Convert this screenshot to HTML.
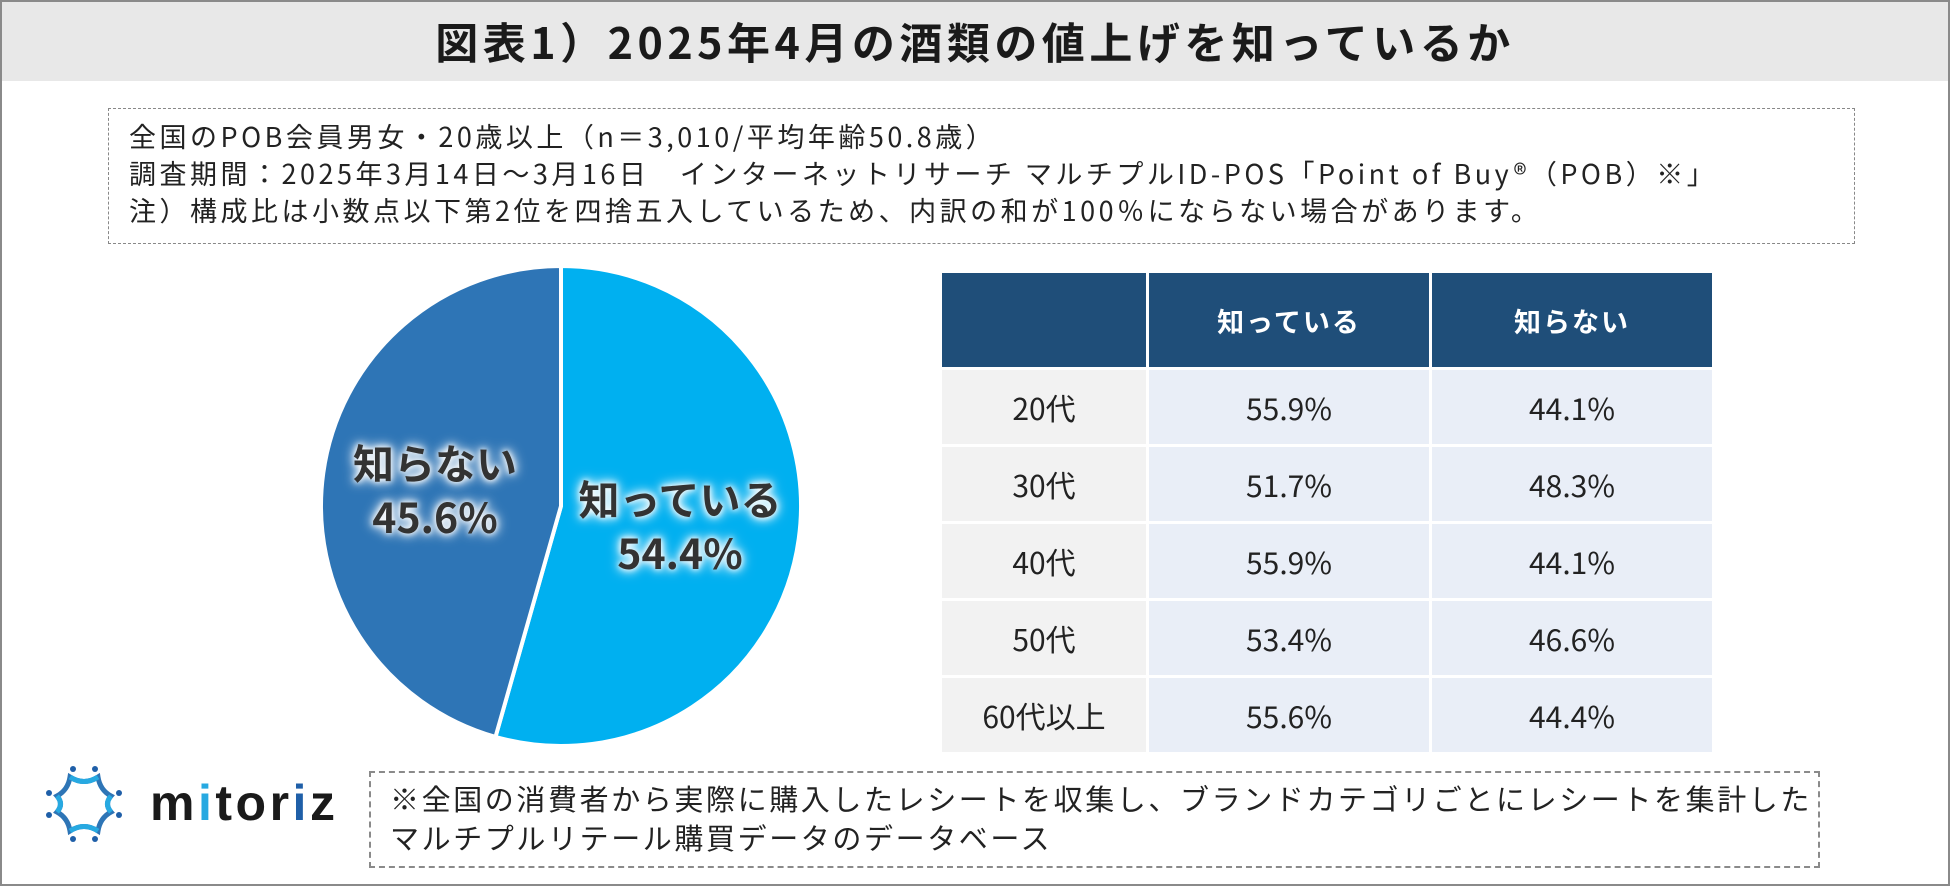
<!DOCTYPE html>
<html><head><meta charset="utf-8"><style>
*{margin:0;padding:0;box-sizing:border-box}
body{width:1950px;height:886px;background:#fff;font-family:"Noto Sans CJK JP","Liberation Sans",sans-serif;position:relative;overflow:hidden;color:#222}
#frame{position:absolute;left:0;top:0;width:1950px;height:886px;border:2px solid #8a8a8a}
#title{position:absolute;left:2px;top:2px;width:1946px;height:79px;background:#e8e8e8;text-align:center;font-size:43px;letter-spacing:4.5px;font-weight:bold;line-height:79px;color:#1a1a1a}
#info{position:absolute;left:108px;top:108px;width:1747px;height:136px;border:1px dashed #888;padding:8px 0 0 20px;font-size:27px;letter-spacing:3.5px;line-height:37px;color:#222;white-space:nowrap}
#foot{position:absolute;left:369px;top:771px;width:1451px;height:97px;border:2px dashed #8a8a8a;padding:6px 0 0 19px;font-size:29px;letter-spacing:2.6px;line-height:39px;color:#222;white-space:nowrap}
table{position:absolute;left:939px;top:270px;border-collapse:collapse;font-size:30px}
td,th{border:3px solid #fff;text-align:center;height:77px;line-height:1}
th{background:#1f4e79;color:#fff;font-weight:bold;height:97px;font-size:27px;letter-spacing:2px}
td.l{background:#f2f2f2;width:207px}
td.v{background:#e9eef7;width:283px}
.pl{position:absolute;font-size:41px;font-weight:bold;color:#333;text-align:center;line-height:54px;text-shadow:0 0 6px #fff,0 0 10px #fff,0 0 14px #fff}
</style></head><body>
<div id="frame"></div>
<div id="title">図表1）2025年4月の酒類の値上げを知っているか</div>
<div id="info">全国のPOB会員男女・20歳以上（n＝3,010/平均年齢50.8歳）<br>調査期間：2025年3月14日～3月16日　インターネットリサーチ マルチプルID-POS「Point of Buy®（POB）※」<br>注）構成比は小数点以下第2位を四捨五入しているため、内訳の和が100％にならない場合があります。</div>
<svg id="pie" width="1950" height="886" style="position:absolute;left:0;top:0"></svg>
<div class="pl" style="left:330px;top:434px;width:210px">知らない<br>45.6%</div>
<div class="pl" style="left:565px;top:470px;width:230px">知っている<br>54.4%</div>
<table><tbody id="tb">
<tr><th style="width:207px"></th><th>知っている</th><th>知らない</th></tr>
</tbody></table>
<svg style="position:absolute;left:46px;top:766px" width="300" height="76">
<g transform="translate(38,38)">
<path d="M-14,-27 Q0,-18 14,-27 Q16,-14 27,-8 Q20,0 27,8 Q16,14 14,27 Q0,18 -14,27 Q-16,14 -27,8 Q-20,0 -27,-8 Q-16,-14 -14,-27Z" fill="none" stroke="#2e75b6" stroke-width="5"/>
<path d="M-14,-27 Q0,-18 14,-27 M27,-8 Q20,0 27,8 M14,27 Q0,18 -14,27 M-27,8 Q-20,0 -27,-8" fill="none" stroke="#27a9e1" stroke-width="5"/>
<g fill="#1f5fa8"><circle cx="-11" cy="-35" r="3"/><circle cx="11" cy="-35" r="3"/><circle cx="-11" cy="35" r="3"/><circle cx="11" cy="35" r="3"/><circle cx="-35" cy="-11" r="3"/><circle cx="35" cy="-11" r="3"/><circle cx="-35" cy="11" r="3"/><circle cx="35" cy="11" r="3"/></g>
</g>
<text x="104" y="54" font-size="50" font-weight="bold" fill="#1a1a1a" font-family="Liberation Sans, sans-serif" letter-spacing="3.5">m<tspan fill="#27a9e1">i</tspan>tor<tspan fill="#1f5fa8">i</tspan>z</text>
</svg>
<div id="foot">※全国の消費者から実際に購入したレシートを収集し、ブランドカテゴリごとにレシートを集計した<br>マルチプルリテール購買データのデータベース</div>
<script>
const pieCats=['知っている','知らない'];
const pieVals=[54.4,45.6];
const pieColors=['#00b0f0','#2e75b6'];
const ages=['20代','30代','40代','50代','60代以上'];
const known=[55.9,51.7,55.9,53.4,55.6];
const unknown=[44.1,48.3,44.1,46.6,44.4];
const NS='http://www.w3.org/2000/svg';
const svg=document.getElementById('pie');
const cx=561,cy=506,r=240;
const total=pieVals.reduce((a,b)=>a+b,0);
let a0=0;
pieVals.forEach((v,i)=>{
  const a1=a0+v/total*2*Math.PI;
  const p=(a)=>[cx+r*Math.sin(a),cy-r*Math.cos(a)];
  const [x0,y0]=p(a0),[x1,y1]=p(a1);
  const path=document.createElementNS(NS,'path');
  path.setAttribute('d',`M${cx},${cy}L${x0},${y0}A${r},${r} 0 ${a1-a0>Math.PI?1:0} 1 ${x1},${y1}Z`);
  path.setAttribute('fill',pieColors[i]);path.setAttribute('stroke','#fff');path.setAttribute('stroke-width','4');
  
  
  svg.appendChild(path);
  a0=a1;
});
const tb=document.getElementById('tb');
ages.forEach((g,i)=>{
  const tr=document.createElement('tr');
  
  
  tr.innerHTML=`<td class="l">${g}</td><td class="v">${known[i].toFixed(1)}%</td><td class="v">${unknown[i].toFixed(1)}%</td>`;
  tb.appendChild(tr);
});
</script>
</body></html>
